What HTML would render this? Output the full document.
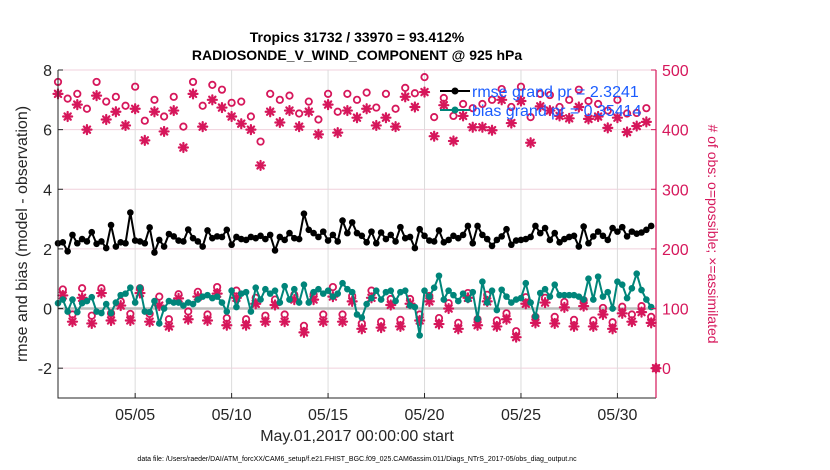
<!DOCTYPE html>
<html><head><meta charset="utf-8"><style>
body{margin:0;background:#fff;}
svg{display:block;font-family:"Liberation Sans",sans-serif;}
</style></head><body>
<svg id="chart" width="830" height="470" viewBox="0 0 830 470">
<text x="357" y="42" font-size="14" font-weight="bold" text-anchor="middle">Tropics 31732 / 33970 = 93.412%</text>
<text x="357" y="60" font-size="14" font-weight="bold" text-anchor="middle">RADIOSONDE_V_WIND_COMPONENT @ 925 hPa</text>
<g id="grid"></g>
<g id="marks"></g>
<g id="axes"></g>
<text transform="translate(27,234) rotate(-90)" font-size="16" text-anchor="middle" fill="#262626">rmse and bias (model - observation)</text>
<text transform="translate(708,234) rotate(90)" font-size="14" text-anchor="middle" fill="#d6175b"># of obs: o=possible; ×=assimilated</text>
<text x="357" y="441" font-size="16" text-anchor="middle" fill="#262626">May.01,2017 00:00:00 start</text>
<text x="357" y="461" font-size="7" text-anchor="middle" fill="#000">data file: /Users/raeder/DAI/ATM_forcXX/CAM6_setup/f.e21.FHIST_BGC.f09_025.CAM6assim.011/Diags_NTrS_2017-05/obs_diag_output.nc</text>
<g>
<line x1="440" y1="91" x2="470" y2="91" stroke="#000" stroke-width="2"/>
<circle cx="455" cy="91" r="3.5" fill="#000"/>
<text x="472" y="97" font-size="16" fill="#1a5cff">rmse grand pr = 2.3241</text>
<line x1="440" y1="110" x2="470" y2="110" stroke="#00857a" stroke-width="2"/>
<circle cx="455" cy="110" r="3.5" fill="#00857a"/>
<text x="472" y="116" font-size="16" fill="#1a5cff">bias grand pr = 0.35414</text>
</g>
</svg>
<script>
const rmse=[2.19,2.22,1.92,2.47,2.19,2.33,2.25,2.56,2.17,2.25,2.03,2.8,2.08,2.22,2.19,3.22,2.28,2.25,2.19,2.72,1.88,2.3,2.08,2.5,2.42,2.28,2.25,2.65,2.36,2.25,2.08,
2.62,2.36,2.42,2.4,2.64,2.14,2.4,2.33,2.3,2.4,2.36,2.44,2.33,2.47,1.95,2.4,2.3,2.53,2.36,2.33,3.18,2.64,2.53,2.4,2.58,2.28,2.47,2.25,2.95,2.53,
2.89,2.53,2.44,2.22,2.58,2.19,2.55,2.33,2.47,2.25,2.73,2.36,2.4,2.03,2.66,2.44,2.28,2.25,2.62,2.22,2.3,2.44,2.36,2.47,2.77,2.19,2.77,2.47,2.33,2.1,
2.3,2.42,2.66,2.14,2.28,2.3,2.33,2.4,2.77,2.53,2.7,2.3,2.53,2.22,2.33,2.4,2.44,2.08,2.75,2.19,2.42,2.58,2.44,2.3,2.7,2.58,2.73,2.42,2.58,2.51,2.55,2.64,2.77];
const bias=[0.18,0.3,-0.1,0.3,-0.12,0.18,0.25,0.38,-0.1,-0.15,0.15,-0.15,0.2,0.45,0.5,0.7,0.2,0.7,-0.1,-0.12,0.25,-0.5,0.0,0.25,0.2,0.2,0.1,0.2,0.15,0.3,0.4,
0.45,0.35,0.4,0.2,-0.1,0.6,0.05,0.5,0.55,-0.1,0.7,0.3,0.65,0.5,0.6,0.2,0.75,0.3,0.65,0.2,0.8,0.2,0.55,0.65,0.5,0.6,0.4,0.5,0.85,0.65,
0.55,-0.2,-0.3,0.15,0.35,0.6,0.3,0.55,0.6,0.25,0.55,0.6,0.1,0.05,-0.9,0.6,0.4,0.7,1.1,0.3,0.6,0.45,0.25,0.5,0.3,0.55,-0.35,0.9,0.2,0.6,
-0.05,0.63,0.4,0.2,0.3,0.35,0.85,0.2,-0.27,0.52,0.65,0.4,0.8,0.45,0.45,0.45,0.45,0.4,0.3,1.0,0.3,1.07,0.4,0.55,0.0,0.9,0.8,0.35,0.68,1.17,0.62,0.3,0.05];
// obs counts at 00Z/12Z (synoptic) and 06Z/18Z (off-synoptic)
const possibleSyn=[480,452,460,435,480,447,455,440,472,415,450,422,455,405,480,440,475,467,445,447,422,380,460,450,457,427,447,417,460,430,460,450,462,437,460,435,
470,461,488,421,453,423,443,436,443,450,468,438,472,421,460,458,438,450,467,448,443,432,450,427,428,436];
const assimSyn=[460,422,442,400,457,417,430,407,435,382,430,397,432,370,460,405,450,437,422,410,400,340,430,412,432,405,430,392,442,395,432,420,435,407,420,405,
455,438,463,389,441,381,423,404,404,399,450,411,448,378,439,432,423,419,438,418,422,403,420,396,406,413];
const possibleOff=[132,90,134,88,134,92,112,91,134,91,120,82,124,95,128,90,136,84,130,82,118,88,115,90,123,71,124,90,136,90,
121,75,130,78,116,81,116,90,121,84,109,76,126,82,123,80,92,62,119,86,118,86,111,81,114,80,101,77,103,90,104,86];
const assimOff=[122,78,118,75,126,80,105,80,126,78,105,70,117,82,120,80,125,72,118,72,108,78,106,78,115,60,115,78,120,78,
112,66,118,68,106,70,108,80,112,74,100,66,118,72,112,70,82,52,108,76,110,75,102,70,104,70,90,66,92,78,94,76];
const xTickDays=[4,9,14,19,24,29];
const xTickLabels=['05/05','05/10','05/15','05/20','05/25','05/30'];
const yTicks=[-2,0,2,4,6,8];
const rTicks=[0,100,200,300,400,500];

const L=58,R=656,T=70,B=398,NS='http://www.w3.org/2000/svg';
const xDay=d=>L+d*(R-L)/31;
const yL=v=>T+(8-v)*(B-T)/11;
const yR=c=>yL((c-100)/50);
const MAG='#d6175b';
function el(tag,attrs,parent){const e=document.createElementNS(NS,tag);for(const k in attrs)e.setAttribute(k,attrs[k]);parent.appendChild(e);return e;}
const grid=document.getElementById('grid'),marks=document.getElementById('marks'),axes=document.getElementById('axes');

yTicks.forEach(v=>{const g=el('line',{x1:L,x2:R,y1:yL(v),y2:yL(v),stroke:'#f0d0dc','stroke-width':1},grid);

});
xTickDays.forEach(d=>{const g=el('line',{x1:xDay(d),x2:xDay(d),y1:T,y2:B,stroke:'#dcdcdc','stroke-width':1},grid);

});
const zl=el('line',{x1:L,x2:R,y1:yL(0),y2:yL(0),stroke:'#bdbdbd','stroke-width':2.5},grid);



function star(cx,cy,name){const g=el('g',{stroke:MAG,'stroke-width':2.2,'stroke-linecap':'round'},marks);


const s=4.5;
[[0,s],[s,0],[s*0.7,s*0.7],[s*0.7,-s*0.7]].forEach(([dx,dy])=>el('line',{x1:cx-dx,y1:cy-dy,x2:cx+dx,y2:cy+dy},g));}
function ring(cx,cy,name){const c=el('circle',{cx:cx,cy:cy,r:3.2,fill:'none',stroke:MAG,'stroke-width':1.8},marks);

}

possibleSyn.forEach((c,k)=>{const x=xDay(k*0.5);ring(x,yR(c),'possible-obs-synoptic');star(x,yR(assimSyn[k]),'assimilated-obs-synoptic');});
possibleOff.forEach((c,k)=>{const x=xDay(k*0.5+0.25);ring(x,yR(c),'possible-obs-offsynoptic');star(x,yR(assimOff[k]),'assimilated-obs-offsynoptic');});
ring(R,yR(0),'possible-obs-end');star(R,yR(0),'assimilated-obs-end');

function series(vals,color,name){
 const pts=vals.map((v,i)=>xDay(i*0.25)+','+yL(v)).join(' ');
 const p=el('polyline',{points:pts,fill:'none',stroke:color,'stroke-width':2},marks);
 
 
 vals.forEach((v,i)=>{const c=el('circle',{cx:xDay(i*0.25),cy:yL(v),r:3.3,fill:color},marks);
 
 });
}
series(bias,'#00857a','bias');
series(rmse,'#000','rmse');

const ax=el('path',{d:`M${L},${T}V${B}H${R}`,fill:'none',stroke:'#262626','stroke-width':1},axes);


const ra=el('line',{x1:R,x2:R,y1:T,y2:B,stroke:MAG,'stroke-width':1.2},axes);


yTicks.forEach(v=>{el('line',{x1:L,x2:L+5,y1:yL(v),y2:yL(v),stroke:'#262626'},axes);
const t=el('text',{x:L-6,y:yL(v)+6,'font-size':16,'text-anchor':'end',fill:'#262626'},axes);t.textContent=v;

});
rTicks.forEach(c=>{el('line',{x1:R-5,x2:R,y1:yR(c),y2:yR(c),stroke:MAG},axes);
const t=el('text',{x:R+6,y:yR(c)+6,'font-size':16,fill:MAG},axes);t.textContent=c;

});
xTickDays.forEach((d,i)=>{el('line',{x1:xDay(d),x2:xDay(d),y1:B,y2:B-5,stroke:'#262626'},axes);
const t=el('text',{x:xDay(d),y:B+22,'font-size':16,'text-anchor':'middle',fill:'#262626'},axes);t.textContent=xTickLabels[i];

});
</script>
</body></html>
